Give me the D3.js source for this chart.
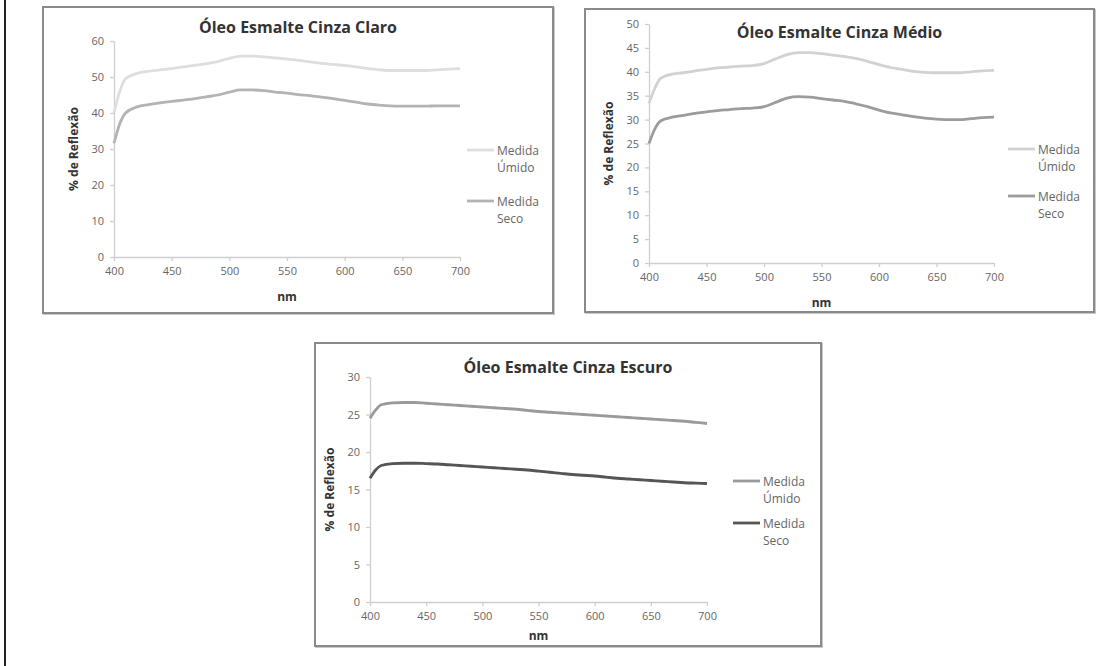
<!DOCTYPE html>
<html><head><meta charset="utf-8">
<script src="https://cdn.jsdelivr.net/npm/d3@7"></script>
<style>
html,body{margin:0;padding:0;background:#fff;}
svg{display:block;}
</style>
</head><body>
<svg id="chart" width="1120" height="666"></svg>
<script>
// ---- DATA ----
const wavelengths = [400,405,410,420,430,440,450,460,470,480,490,500,510,520,530,540,550,560,570,580,590,600,610,620,630,640,650,660,670,680,690,700];
const seriesNames = ["Medida Úmido","Medida Seco"];
const titles = ["Óleo Esmalte Cinza Claro","Óleo Esmalte Cinza Médio","Óleo Esmalte Cinza Escuro"];
const xTicks = [400,450,500,550,600,650,700];
const yTicksClaro = [0,10,20,30,40,50,60];
const yTicksMedio = [0,5,10,15,20,25,30,35,40,45,50];
const yTicksEscuro = [0,5,10,15,20,25,30];

const claroUmido = [40,46,49.5,51,51.6,52,52.3,52.8,53.2,53.7,54.3,55.2,55.8,55.8,55.6,55.3,55,54.6,54.2,53.8,53.5,53.2,52.8,52.3,52,51.8,51.8,51.8,51.8,52,52.2,52.3];
const claroSeco  = [31.6,37,40,41.7,42.3,42.8,43.2,43.6,44,44.5,45,45.8,46.4,46.4,46.2,45.8,45.5,45.1,44.8,44.4,44,43.5,43,42.5,42.2,42,41.9,41.9,41.9,42,42,42];
const medioUmido = [33.4,36.5,38.6,39.5,39.8,40.2,40.5,40.8,41,41.2,41.3,41.7,42.7,43.6,44,44,43.8,43.5,43.2,42.8,42.2,41.5,40.9,40.5,40.1,39.9,39.8,39.8,39.8,40,40.2,40.3];
const medioSeco  = [25,28,29.7,30.5,30.9,31.3,31.6,31.9,32.1,32.3,32.4,32.7,33.6,34.5,34.8,34.7,34.4,34.1,33.8,33.3,32.7,32,31.4,31,30.6,30.3,30.1,30,30,30.2,30.4,30.5];
const escuroUmido = [24.5,25.6,26.3,26.55,26.6,26.6,26.5,26.4,26.3,26.2,26.1,26,25.9,25.8,25.7,25.55,25.4,25.3,25.2,25.1,25,24.9,24.8,24.7,24.6,24.5,24.4,24.3,24.2,24.1,23.95,23.8];
const escuroSeco  = [16.5,17.6,18.2,18.45,18.5,18.5,18.45,18.4,18.3,18.2,18.1,18,17.9,17.8,17.7,17.6,17.45,17.3,17.15,17,16.9,16.8,16.65,16.5,16.4,16.3,16.2,16.1,16,15.9,15.85,15.8];

// ---- LAYOUT / STYLE ----
const panels = [
  {title:titles[0], series:[claroUmido,claroSeco], yTicks:yTicksClaro, yMax:60,
   box:[43,7,553,313], plot:[114,41,460,257], titleY:33, colors:["#dedede","#b3b3b3"],
   legX:467, legY:[151,202], nmOff:44},
  {title:titles[1], series:[medioUmido,medioSeco], yTicks:yTicksMedio, yMax:50,
   box:[585,9,1094,312], plot:[649,24,994,263], titleY:38, colors:["#d2d2d2","#9c9c9c"],
   legX:1008, legY:[150,197], nmOff:44},
  {title:titles[2], series:[escuroUmido,escuroSeco], yTicks:yTicksEscuro, yMax:30,
   box:[315,343,821,646], plot:[370,377,707,602], titleY:373, colors:["#9a9a9a","#555555"],
   legX:733, legY:[482,524], nmOff:38}
];

const svg = d3.select("#chart");
const font = "'Open Sans', 'DejaVu Sans', sans-serif";

// outer left frame line
svg.append("line").attr("x1",5).attr("x2",5).attr("y1",0).attr("y2",666)
  .attr("stroke","#222").attr("stroke-width",2);

panels.forEach((p,pi)=>{
  const g = svg.append("g");
  const [bx0,by0,bx1,by1] = p.box;
  g.append("rect").attr("x",bx0+1).attr("y",by0+1).attr("width",bx1-bx0).attr("height",by1-by0)
    .attr("fill","none").attr("stroke","#c8c8c8").attr("stroke-width",2);
  g.append("rect").attr("x",bx0).attr("y",by0).attr("width",bx1-bx0).attr("height",by1-by0)
    .attr("fill","#fff").attr("stroke","#8a8a8a").attr("stroke-width",2);

  const [px0,py0,px1,py1] = p.plot;
  const x = d3.scaleLinear().domain([400,700]).range([px0,px1]);
  const y = d3.scaleLinear().domain([0,p.yMax]).range([py1,py0]);

  const yAx = g.append("g").attr("transform",`translate(${px0},0)`)
    .call(d3.axisLeft(y).tickValues(p.yTicks).tickSize(4).tickPadding(6).tickSizeOuter(0));
  const xAx = g.append("g").attr("transform",`translate(0,${py1})`)
    .call(d3.axisBottom(x).tickValues(xTicks).tickSize(4).tickPadding(6).tickSizeOuter(0));
  [yAx,xAx].forEach(a=>{
    a.select(".domain").attr("stroke","#cfcfcf").attr("stroke-width",1.3);
    a.selectAll(".tick line").attr("stroke","#cfcfcf").attr("stroke-width",1.3);
    a.selectAll(".tick text").attr("fill","#666").style("font-family",font).style("font-size","11px");
  });

  g.append("text").attr("x",(bx0+bx1)/2).attr("y",p.titleY).attr("text-anchor","middle")
    .style("font-family",font).style("font-weight","bold").style("font-size","16px")
    .attr("fill","#333").text(p.title);
  g.append("text").attr("x",(px0+px1)/2).attr("y",py1+p.nmOff).attr("text-anchor","middle")
    .style("font-family",font).style("font-weight","bold").style("font-size","12px")
    .attr("fill","#333").text("nm");
  g.append("text").attr("transform",`translate(${px0-36},${(py0+py1)/2}) rotate(-90)`)
    .attr("text-anchor","middle")
    .style("font-family",font).style("font-weight","bold").style("font-size","12px")
    .attr("fill","#333").text("% de Reflexão");

  const line = d3.line().x((d,i)=>x(wavelengths[i])).y(d=>y(d)).curve(d3.curveMonotoneX);
  p.series.forEach((s,si)=>{
    g.append("path").datum(s).attr("d",line).attr("fill","none")
      .attr("stroke",p.colors[si]).attr("stroke-width",2.8);
  });

  seriesNames.forEach((name,si)=>{
    const ly = p.legY[si];
    g.append("line").attr("x1",p.legX).attr("x2",p.legX+27).attr("y1",ly-1).attr("y2",ly-1)
      .attr("stroke",p.colors[si]).attr("stroke-width",2.8);
    const parts = name.split(" ");
    const t = g.append("text").attr("x",p.legX+30).attr("y",ly+4)
      .style("font-family",font).style("font-size","12px").attr("fill","#666");
    t.append("tspan").attr("x",p.legX+30).attr("dy",0).text(parts[0]);
    t.append("tspan").attr("x",p.legX+30).attr("dy",17).text(parts[1]);
  });
});
</script>
</body></html>
